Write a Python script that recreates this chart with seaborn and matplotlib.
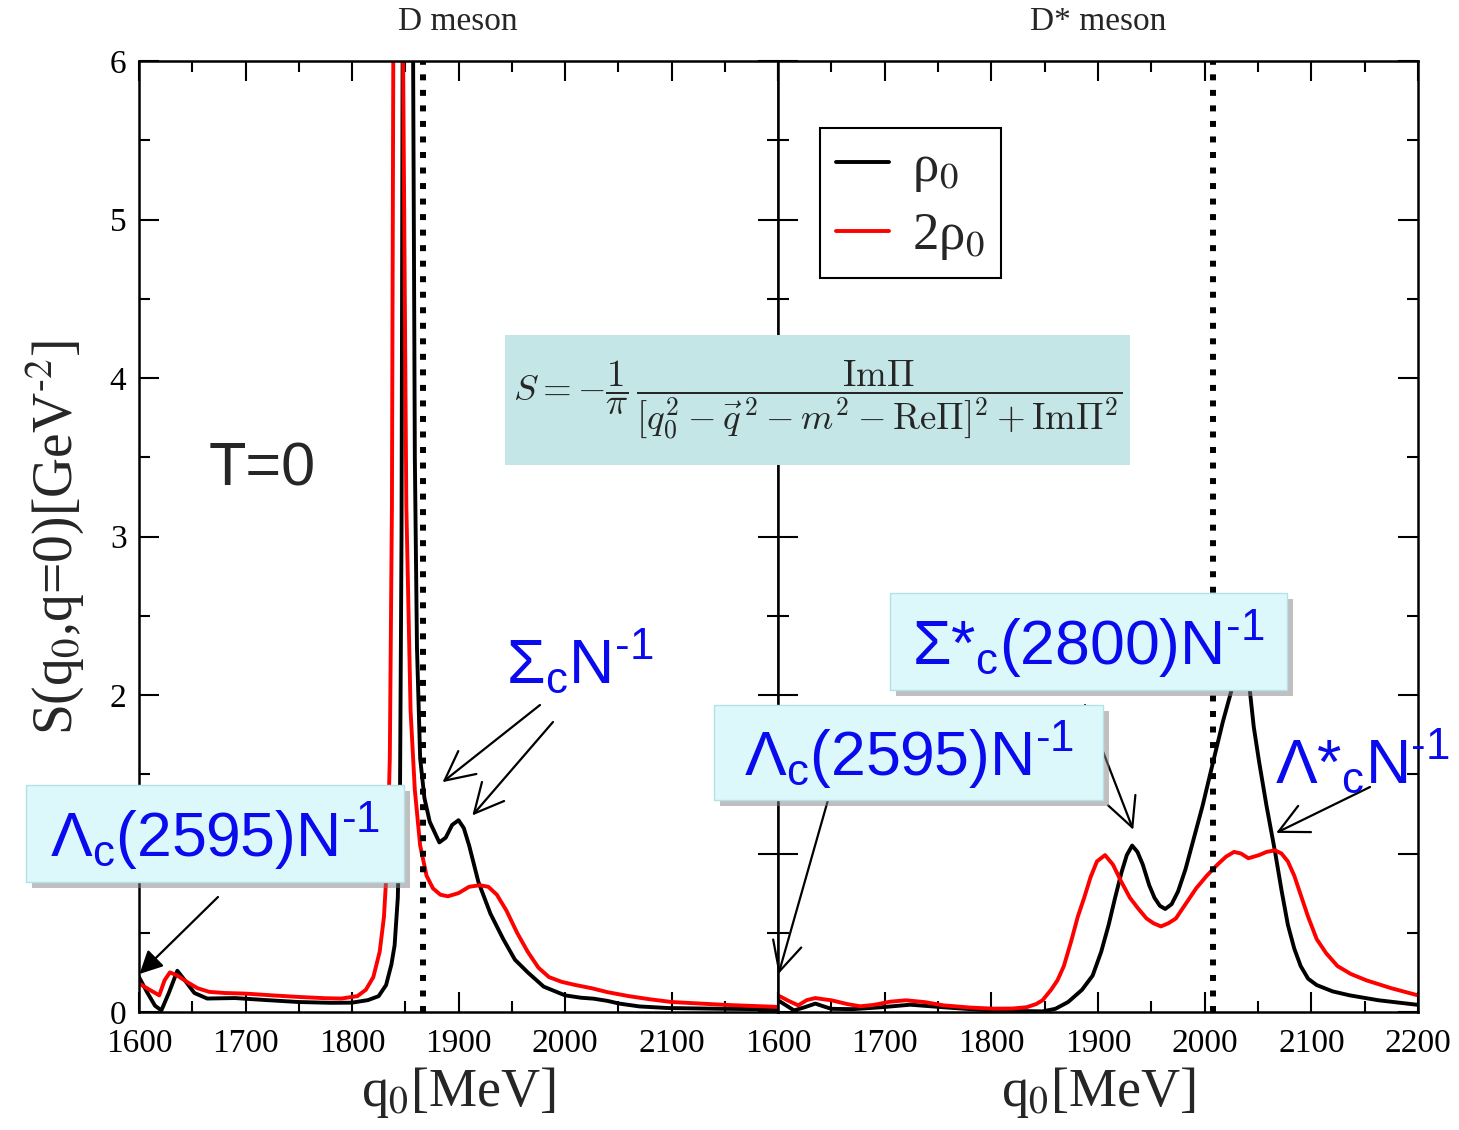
import numpy as np
import pandas as pd
import matplotlib
matplotlib.use("Agg")
import matplotlib.pyplot as plt
import matplotlib.patches as mpatches
import matplotlib.patheffects as pe
from matplotlib.ticker import MultipleLocator
import seaborn as sns

# D meson, rho_0
d_rho1_x = [1600, 1608, 1615, 1621, 1628, 1636, 1643, 1652, 1664, 1690, 1720, 1750, 1780, 1800,
            1815, 1825, 1832, 1837, 1840, 1843, 1845, 1846.5, 1847.5, 1850, 1855, 1857.4, 1859,
            1861, 1864, 1868, 1873, 1882, 1888, 1894, 1900, 1905, 1910, 1918.7, 1930, 1942, 1953,
            1965, 1980, 2000, 2015, 2027, 2040, 2051, 2070, 2097, 2150, 2200]
d_rho1_y = [0.22, 0.12, 0.04, 0.01, 0.12, 0.26, 0.2, 0.12, 0.085, 0.088, 0.075, 0.063, 0.058, 0.059,
            0.075, 0.1, 0.17, 0.3, 0.42, 0.72, 1.3, 3.0, 6.0, 12.0, 12.0, 6.0, 3.5,
            2.3, 1.6, 1.35, 1.2, 1.07, 1.1, 1.18, 1.21, 1.16, 1.05, 0.82, 0.62, 0.46, 0.33,
            0.25, 0.16, 0.105, 0.09, 0.084, 0.07, 0.053, 0.035, 0.025, 0.02, 0.017]

# D meson, 2 rho_0
d_rho2_x = [1600, 1610, 1619, 1624, 1629, 1636, 1645, 1655, 1666, 1680, 1700, 1725, 1750, 1775,
            1790, 1805, 1813, 1820, 1826, 1830, 1833, 1835.5, 1837.5, 1839, 1841, 1845, 1848,
            1851, 1855, 1859, 1864, 1870, 1876, 1883, 1890, 1900, 1910, 1920, 1928, 1936, 1945,
            1955, 1965, 1975, 1985, 1997, 2010, 2025, 2040, 2060, 2080, 2100, 2150, 2200]
d_rho2_y = [0.18, 0.14, 0.105, 0.2, 0.25, 0.23, 0.19, 0.15, 0.127, 0.12, 0.116, 0.105, 0.095, 0.087,
            0.085, 0.1, 0.14, 0.22, 0.38, 0.6, 0.95, 1.6, 3.2, 6.5, 12.0, 12.0, 6.0,
            3.2, 1.9, 1.4, 1.05, 0.86, 0.78, 0.74, 0.73, 0.75, 0.79, 0.8, 0.79, 0.74, 0.64,
            0.5, 0.38, 0.28, 0.22, 0.19, 0.17, 0.15, 0.125, 0.1, 0.08, 0.063, 0.045, 0.032]

# D* meson, rho_0
ds_rho1_x = [1600, 1608, 1615, 1625, 1635, 1643, 1650, 1670, 1697, 1724, 1755, 1780, 1802, 1830,
             1848, 1860, 1872, 1885, 1895, 1903, 1910, 1916, 1922, 1927, 1932, 1937, 1942, 1948,
             1953, 1958, 1963, 1969, 1975, 1982, 1988, 1998, 2008, 2017, 2026, 2030, 2034, 2038,
             2042, 2046, 2051, 2058, 2066, 2072, 2078, 2084, 2090, 2097, 2105, 2120, 2136, 2163,
             2200]
ds_rho1_y = [0.074, 0.04, 0.01, 0.03, 0.053, 0.035, 0.02, 0.018, 0.03, 0.046, 0.03, 0.018, 0.01, 0.006,
             0.004, 0.02, 0.063, 0.14, 0.23, 0.38, 0.55, 0.72, 0.88, 0.99, 1.05, 1.01, 0.93, 0.8,
             0.72, 0.67, 0.65, 0.68, 0.76, 0.9, 1.05, 1.3, 1.58, 1.83, 2.05, 2.25, 2.35, 2.25,
             2.05, 1.8, 1.58, 1.3, 1.01, 0.77, 0.55, 0.4, 0.29, 0.21, 0.17, 0.13, 0.105, 0.074,
             0.045]

# D* meson, 2 rho_0
ds_rho2_x = [1600, 1610, 1619, 1627, 1635, 1643, 1650, 1665, 1677, 1690, 1705, 1720, 1738, 1755,
             1780, 1802, 1820, 1833, 1842, 1848, 1856, 1862, 1868, 1875, 1881, 1887, 1893, 1899,
             1906.6, 1914, 1922, 1930, 1938, 1945.5, 1952, 1959, 1966, 1973, 1982, 1992, 2002, 2012,
             2020, 2027.5, 2034, 2041, 2046, 2051, 2058, 2066, 2072, 2078, 2084, 2090, 2097, 2105,
             2114, 2124.5, 2137, 2151.5, 2175, 2200]
ds_rho2_y = [0.105, 0.07, 0.042, 0.075, 0.088, 0.08, 0.074, 0.05, 0.036, 0.045, 0.065, 0.074, 0.062, 0.042,
             0.028, 0.021, 0.022, 0.03, 0.05, 0.074, 0.14, 0.2, 0.29, 0.45, 0.6, 0.72, 0.85, 0.95,
             0.99, 0.93, 0.82, 0.72, 0.65, 0.59, 0.56, 0.54, 0.56, 0.59, 0.68, 0.78, 0.86, 0.93,
             0.98, 1.01, 1.0, 0.97, 0.98, 0.99, 1.01, 1.02, 1.0, 0.95, 0.86, 0.74, 0.6, 0.46,
             0.37, 0.29, 0.24, 0.2, 0.15, 0.105]

x_ticks = [1600, 1700, 1800, 1900, 2000, 2100, 2200]
x_labels_left = ["1600", "1700", "1800", "1900", "2000", "2100", ""]
y_ticks = [0, 1, 2, 3, 4, 5, 6]
y_labels = ["0", "", "2", "3", "4", "5", "6"]   # "1" sits under the label box
d_mass = 1867
ds_mass = 2008

sns.set_style("ticks")
plt.rcParams["font.family"] = ["Liberation Serif", "DejaVu Serif"]
plt.rcParams["mathtext.fontset"] = "stix"
plt.rcParams["mathtext.rm"] = "Liberation Sans"
plt.rcParams["mathtext.it"] = "Liberation Sans:italic"
plt.rcParams["mathtext.bf"] = "Liberation Sans:bold"

W, H = 1459, 1130
fig = plt.figure(figsize=(W / 100, H / 100), dpi=100)

def fx(px):
	return px / W

def fy(py):
	return 1 - py / H

ax1 = fig.add_axes([fx(139), fy(1012), (778 - 139) / W, (1012 - 61) / H])
ax2 = fig.add_axes([fx(778), fy(1012), (1418 - 778) / W, (1012 - 61) / H])

for ax, xs, ys, mass in [(ax1, (d_rho1_x, d_rho2_x), (d_rho1_y, d_rho2_y), d_mass),
                         (ax2, (ds_rho1_x, ds_rho2_x), (ds_rho1_y, ds_rho2_y), ds_mass)]:
	df = pd.concat([pd.DataFrame({"q0": xs[0], "S": ys[0], "rho": "ρ$_0$"}),
	                pd.DataFrame({"q0": xs[1], "S": ys[1], "rho": "2ρ$_0$"})])
	sns.lineplot(data=df, x="q0", y="S", hue="rho", palette=["black", "#ff0000"],
	             linewidth=2.8, sort=False, ax=ax, legend=(ax is ax2))
	ax.axvline(mass, color="black", lw=4.3, ls=(0, (1, 1.6)), dash_capstyle="butt")
	ax.set_xlim(1600, 2200)
	ax.set_ylim(0, 6)
	ax.set_xticks(x_ticks)
	ax.set_yticks(y_ticks)
	ax.xaxis.set_minor_locator(MultipleLocator(50))
	ax.yaxis.set_minor_locator(MultipleLocator(0.5))
	ax.tick_params(which="both", direction="in", top=True, right=True, width=1.5, colors="black")
	ax.tick_params(which="major", length=14.5, labelsize=24)
	ax.tick_params(axis="x", which="major", pad=12)
	ax.tick_params(axis="y", which="major", pad=9)
	ax.tick_params(which="minor", length=8)
	ax.set_xlabel("")
	ax.set_ylabel("")
	for s in ax.spines.values():
		s.set_linewidth(1.8)
		s.set_color("black")

ax1.set_xticklabels(x_labels_left)
ax1.set_yticklabels(y_labels)
ax2.set_yticklabels([])

ax2.get_legend().remove()
h, l = ax2.get_legend_handles_labels()
leg = ax2.legend(h, l, loc="upper left",
                 bbox_to_anchor=(fx(820), fy(128)), bbox_transform=fig.transFigure,
                 fontsize=38, frameon=True, fancybox=False, framealpha=1, edgecolor="black",
                 handlelength=1.0, handletextpad=0.45, labelspacing=0.35, borderpad=0.3,
                 borderaxespad=0)
leg.get_frame().set_linewidth(1.5)

# titles and axis labels
fig.text(fx(458), fy(22), "D meson", fontsize=24, ha="center", va="center")
fig.text(fx(1098), fy(22), "D* meson", fontsize=24, ha="center", va="center")
fig.text(fx(458), fy(1093), r"q$_0$[MeV]", fontsize=39, ha="center", va="center")
fig.text(fx(1098), fy(1093), r"q$_0$[MeV]", fontsize=39, ha="center", va="center")
fig.text(fx(55), fy(538), "S(q$_0$,q=0)[GeV$^{\u2010 2}$]", fontsize=40, ha="center",
         va="center", rotation=90)

fig.text(fx(262), fy(470), "T=0", fontsize=44, ha="center", va="center",
         family="Liberation Sans")

# formula box
fig.add_artist(mpatches.Rectangle((fx(505), fy(465)), (1130 - 505) / W, 130 / H,
                                  transform=fig.transFigure, fc="#c4e6e7", ec="none", zorder=2))
fig.text(fx(818), fy(400),
         r"$S=-\dfrac{1}{\pi}\,\dfrac{\mathrm{Im}\Pi}{[q_0^2-\vec{q}^{\,2}-m^2-\mathrm{Re}\Pi]^2+\mathrm{Im}\Pi^2}$",
         fontsize=26.5, ha="center", va="center", math_fontfamily="cm", zorder=3)

# labelled boxes
blue = "#0a0aee"
sup = "$^{\\mathrm{\u20101}}$"
boxes = [((26, 785, 404, 882), r"$\Lambda_\mathrm{c}$(2595)N" + sup),
         ((714, 705, 1103, 800), r"$\Lambda_\mathrm{c}$(2595)N" + sup),
         ((890, 593, 1287, 690), r"$\Sigma\mathrm{*}_\mathrm{c}$(2800)N" + sup)]
for (x0, y0, x1, y1), txt in boxes:
	r = mpatches.Rectangle((fx(x0), fy(y1)), (x1 - x0) / W, (y1 - y0) / H,
	                       transform=fig.transFigure, fc="#dcf8fb", ec="#b5e0e6", lw=1, zorder=2)
	r.set_path_effects([pe.SimplePatchShadow(offset=(4, -4), shadow_rgbFace="gray", alpha=0.5),
	                    pe.Normal()])
	fig.add_artist(r)
	fig.text(fx((x0 + x1) / 2), fy((y0 + y1) / 2 + 2), txt, fontsize=45, color=blue,
	         ha="center", va="center", family="Liberation Sans", math_fontfamily="custom",
	         zorder=3)

fig.text(fx(580), fy(662), r"$\Sigma_\mathrm{c}$N" + sup, fontsize=45, color=blue,
         ha="center", va="center", family="Liberation Sans", math_fontfamily="custom", zorder=3)
fig.text(fx(1362), fy(762), r"$\Lambda\mathrm{*}_\mathrm{c}$N" + sup, fontsize=45, color=blue,
         ha="center", va="center", family="Liberation Sans", math_fontfamily="custom", zorder=3)

# arrows: (axes, head in data, tail in figure pixels, style, head scale)
arrows = [(ax1, (1600.5, 0.24), (218, 897), "-|>", 20),
          (ax1, (1885, 1.45), (540, 705), "->", 30),
          (ax1, (1913, 1.24), (553, 722), "->", 30),
          (ax2, (1600.5, 0.24), (828, 800), "->", 30),
          (ax2, (1933, 1.15), (1085, 705), "->", 30),
          (ax2, (2067, 1.13), (1370, 787), "->", 30)]
for ax, head, tail, style, ms in arrows:
	ax.annotate("", xy=head, xycoords="data", xytext=(tail[0], H - tail[1]),
	            textcoords="figure pixels", annotation_clip=False,
	            arrowprops=dict(arrowstyle=style + ",head_length=0.7,head_width=0.35",
	                            color="black", lw=1.6, mutation_scale=ms, shrinkA=0, shrinkB=0))

fig.savefig("out.png", dpi=100)
